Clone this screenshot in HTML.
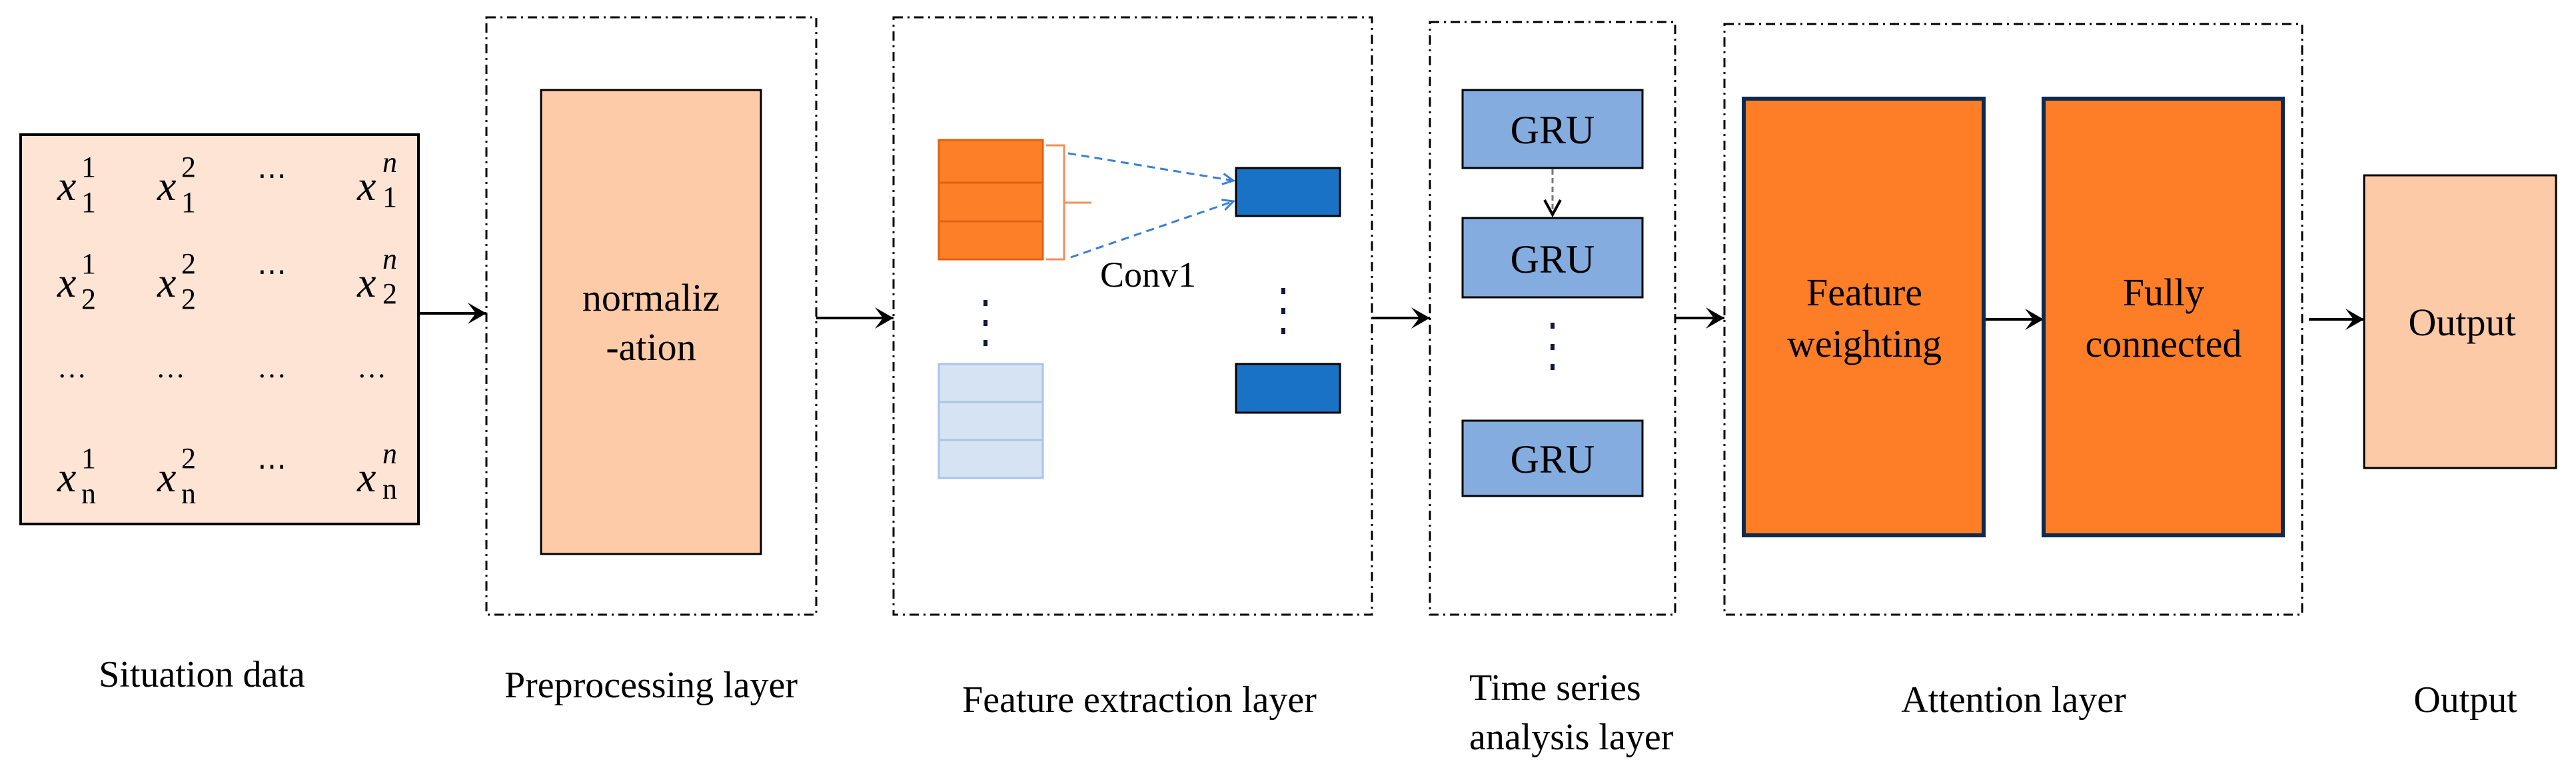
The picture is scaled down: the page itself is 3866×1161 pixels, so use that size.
<!DOCTYPE html>
<html><head><meta charset="utf-8"><style>
html,body{margin:0;padding:0;background:#fff;}
svg{display:block;font-family:"Liberation Serif","DejaVu Serif",serif;}
svg text{font-family:"Liberation Serif","DejaVu Serif",serif;fill:#000;}
</style></head><body>
<svg width="3866" height="1161" viewBox="0 0 3866 1161" xmlns="http://www.w3.org/2000/svg" font-family="Liberation Serif, DejaVu Serif, serif">
<defs>
<marker id="big" markerWidth="40" markerHeight="40" refX="36" refY="20" orient="auto" markerUnits="userSpaceOnUse">
<path d="M8,4 L36,20 L8,36 L20,20 Z" fill="#000"/>
</marker>
<marker id="blue" markerWidth="24" markerHeight="24" refX="20" refY="12" orient="auto" markerUnits="userSpaceOnUse">
<path d="M4,4 L20,12 L4,20" fill="none" stroke="#3a7fd0" stroke-width="3"/>
</marker>
</defs>
<g fill="none" stroke="#000" stroke-width="3" stroke-dasharray="14,7,3,7">
<rect x="730" y="26" width="495" height="896"/>
<rect x="1341" y="26" width="718" height="896"/>
<rect x="2146" y="33" width="368" height="889"/>
<rect x="2588" y="36" width="867" height="886"/>
</g>
<rect x="31" y="202" width="597" height="584" fill="#fde4d4" stroke="#000" stroke-width="4"/>
<g font-size="64" font-style="italic">
<text x="86" y="300">x</text><text x="236" y="300">x</text><text x="536" y="300">x</text>
<text x="86" y="445">x</text><text x="236" y="445">x</text><text x="536" y="445">x</text>
<text x="86" y="737">x</text><text x="236" y="737">x</text><text x="536" y="737">x</text>
</g>
<g font-size="44">
<text x="122" y="265">1</text><text x="122" y="318">1</text>
<text x="272" y="265">2</text><text x="272" y="318">1</text>
<text x="574" y="258" font-style="italic">n</text><text x="574" y="310">1</text>
<text x="122" y="410">1</text><text x="122" y="463">2</text>
<text x="272" y="410">2</text><text x="272" y="463">2</text>
<text x="574" y="403" font-style="italic">n</text><text x="574" y="455">2</text>
<text x="122" y="702">1</text><text x="122" y="755">n</text>
<text x="272" y="702">2</text><text x="272" y="755">n</text>
<text x="574" y="695" font-style="italic">n</text><text x="574" y="748">n</text>
</g>
<g font-size="44">
<text x="386" y="278">⋯</text><text x="386" y="422">⋯</text><text x="386" y="714">⋯</text>
<text x="86" y="566">…</text><text x="234" y="566">…</text><text x="386" y="566">…</text><text x="536" y="566">…</text>
</g>
<rect x="812" y="135" width="330" height="696" fill="#fdcba8" stroke="#000" stroke-width="3"/>
<text x="977" y="466" font-size="58" text-anchor="middle">normaliz</text>
<text x="977" y="540" font-size="58" text-anchor="middle">-ation</text>
<g stroke="#000" stroke-width="4" marker-end="url(#big)">
<line x1="628" y1="470" x2="730" y2="470"/>
<line x1="1225" y1="477" x2="1341" y2="477"/>
<line x1="2059" y1="477" x2="2146" y2="477"/>
<line x1="2514" y1="477" x2="2588" y2="477"/>
<line x1="2977" y1="479" x2="3067" y2="479"/>
<line x1="3465" y1="479" x2="3548" y2="479"/>
</g>
<g stroke="#e2600f" stroke-width="3" fill="#fd7f27">
<rect x="1409" y="210" width="156" height="179"/>
<line x1="1409" y1="274" x2="1565" y2="274"/>
<line x1="1409" y1="332" x2="1565" y2="332"/>
</g>
<path d="M1570,218 L1597,218 L1597,389 L1570,389 M1597,304 L1638,304" fill="none" stroke="#f0905a" stroke-width="3"/>
<g stroke="#3a7fd0" stroke-width="3" stroke-dasharray="12,8" marker-end="url(#blue)">
<line x1="1603" y1="230" x2="1851" y2="271"/>
<line x1="1607" y1="386" x2="1851" y2="302"/>
</g>
<text x="1723" y="430" font-size="54" text-anchor="middle">Conv1</text>
<rect x="1855" y="252" width="156" height="72" fill="#1a72c6" stroke="#000" stroke-width="3"/>
<rect x="1855" y="546" width="156" height="73" fill="#1a72c6" stroke="#000" stroke-width="3"/>
<g stroke="#a9c4e8" stroke-width="3" fill="#d6e3f3">
<rect x="1409" y="546" width="156" height="171"/>
<line x1="1409" y1="603" x2="1565" y2="603"/>
<line x1="1409" y1="660" x2="1565" y2="660"/>
</g>
<g fill="#0d1a40">
<rect x="1476" y="450" width="6" height="9"/><rect x="1476" y="480" width="6" height="9"/><rect x="1476" y="510" width="6" height="9"/>
<rect x="1923" y="432" width="6" height="9"/><rect x="1923" y="462" width="6" height="9"/><rect x="1923" y="492" width="6" height="9"/>
<rect x="2327" y="484" width="6" height="9"/><rect x="2327" y="516" width="6" height="9"/><rect x="2327" y="546" width="6" height="9"/>
</g>
<g fill="#84acdf" stroke="#000" stroke-width="3">
<rect x="2195" y="135" width="270" height="117"/>
<rect x="2195" y="327" width="270" height="119"/>
<rect x="2195" y="631" width="270" height="113"/>
</g>
<g font-size="60" text-anchor="middle">
<text x="2330" y="215">GRU</text><text x="2330" y="409">GRU</text><text x="2330" y="709">GRU</text>
</g>
<line x1="2330" y1="254" x2="2330" y2="322" stroke="#777" stroke-width="3" stroke-dasharray="8,5"/>
<path d="M2318,300 L2330,322 L2342,300" fill="none" stroke="#000" stroke-width="4"/>
<g fill="#fd7e27" stroke="#0d2a4f" stroke-width="6">
<rect x="2617" y="148" width="360" height="655"/>
<rect x="3067" y="148" width="359" height="655"/>
</g>
<g font-size="58" text-anchor="middle">
<text x="2798" y="458">Feature</text><text x="2798" y="535">weighting</text>
<text x="3247" y="458">Fully</text><text x="3247" y="535">connected</text>
</g>
<rect x="3548" y="263" width="288" height="439" fill="#fdcaa7" stroke="#000" stroke-width="3"/>
<text x="3695" y="503" font-size="58" text-anchor="middle">Output</text>
<g font-size="56" text-anchor="middle">
<text x="303" y="1030">Situation data</text>
<text x="977" y="1046">Preprocessing layer</text>
<text x="1710" y="1068">Feature extraction layer</text>
<text x="3022" y="1068">Attention layer</text>
<text x="3700" y="1068">Output</text>
</g>
<g font-size="56">
<text x="2205" y="1050">Time series</text>
<text x="2205" y="1124">analysis layer</text>
</g>
</svg>
</body></html>
